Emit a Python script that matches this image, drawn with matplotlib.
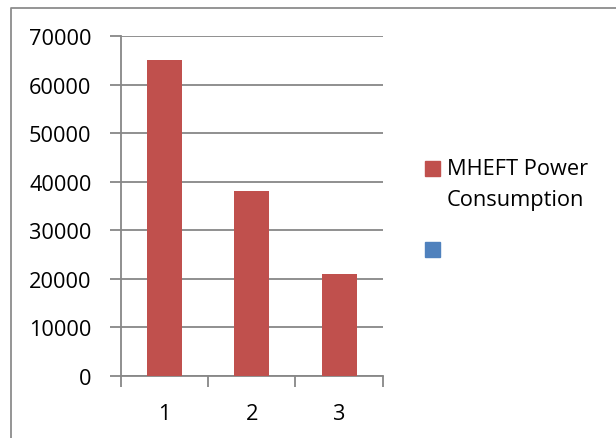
import matplotlib.pyplot as plt
from matplotlib.patches import Rectangle
from matplotlib.lines import Line2D

# data
categories = [1, 2, 3]
power = [65100, 38000, 21000]
series_name = ["MHEFT Power", "Consumption"]
yticks = [0, 10000, 20000, 30000, 40000, 50000, 60000, 70000]

plt.rcParams['font.family'] = ['Open Sans', 'DejaVu Sans']

W, H = 616, 439
fig = plt.figure(figsize=(W / 100, H / 100), dpi=100)

# plot area in pixel terms
left, right, top, bottom = 120.7, 382.7, 37.3, 376.7
ax = fig.add_axes([left / W, 1 - bottom / H, (right - left) / W, (bottom - top) / H])

grey = '#878787'
ax.bar(categories, power, width=0.4, color='#C0504D', zorder=3)

ax.set_xlim(0.5, 3.5)
ax.set_ylim(0, 70000)
ax.set_yticks(yticks)
ax.set_yticklabels([str(v) for v in yticks])

# category boundaries carry the tick marks, labels sit in the middle
ax.set_xticks([0.5, 1.5, 2.5, 3.5])
ax.set_xticklabels([])
ax.set_xticks(categories, minor=True)
ax.set_xticklabels([str(c) for c in categories], minor=True)
ax.tick_params(axis='x', which='major', length=8, width=1.3, color=grey)
ax.tick_params(axis='x', which='minor', length=0, pad=20, labelsize=15.7)
ax.tick_params(axis='y', length=8, width=1.3, color=grey, pad=13, labelsize=15.7)

ax.grid(axis='y', color=grey, linewidth=1.3, zorder=0)
for s in ['top', 'right']:
    ax.spines[s].set_visible(False)
for s in ['left', 'bottom']:
    ax.spines[s].set_color(grey)
    ax.spines[s].set_linewidth(1.3)

# legend drawn by hand so the swatch lines up with the first text line
sq = 15
fig.patches.append(Rectangle((425 / W, 1 - 177 / H), sq / W, sq / H,
                             transform=fig.transFigure, color='#C0504D'))
fig.patches.append(Rectangle((425 / W, 1 - 258 / H), sq / W, sq / H,
                             transform=fig.transFigure, color='#4F81BD'))
fig.text(447 / W, 1 - 169.5 / H, series_name[0], fontsize=15.7, va='center', ha='left')
fig.text(447 / W, 1 - 201 / H, series_name[1], fontsize=15.7, va='center', ha='left')

# chart border (right and bottom edges are cut off in the original)
fig.lines.append(Line2D([11 / W, 11 / W, 1.0], [0.0, 1 - 9 / H, 1 - 9 / H],
                        transform=fig.transFigure, color='#8c8c8c', linewidth=1.3))

fig.savefig('out.png', dpi=100)
